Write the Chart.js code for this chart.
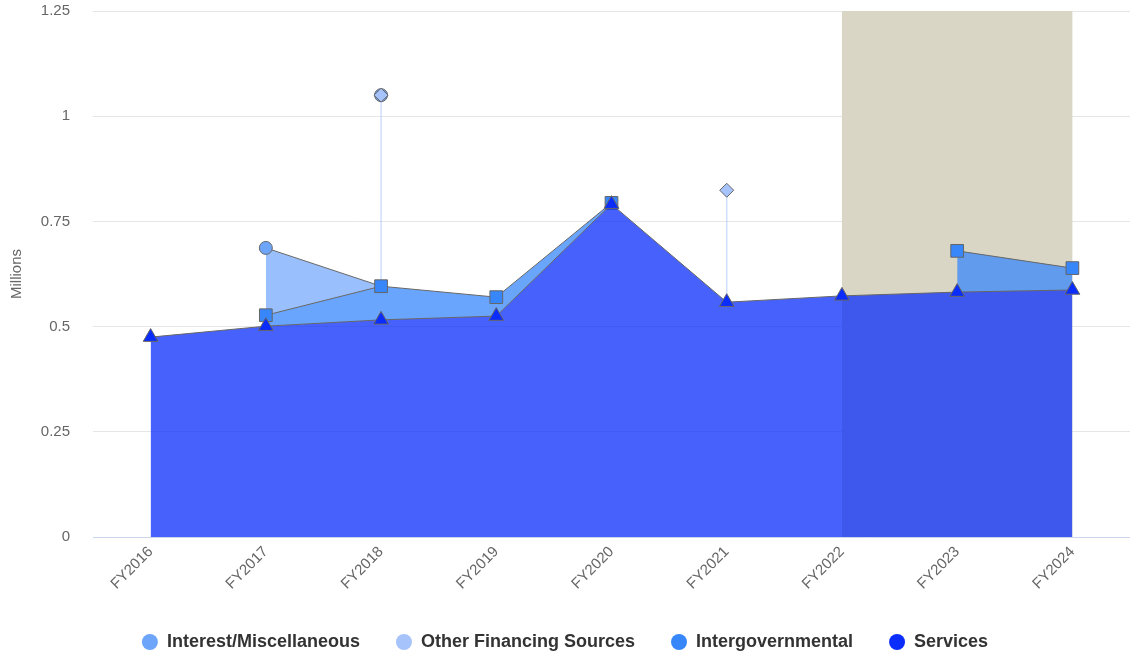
<!DOCTYPE html>
<html>
<head>
<meta charset="utf-8">
<script src="https://cdn.jsdelivr.net/npm/chart.js@4.4.1/dist/chart.umd.min.js"></script>
<style>
    html, body { margin: 0; padding: 0; background: #fff; }
</style>
</head>
<body>
<canvas id="revenueChart" width="1130" height="656"></canvas>
<script>
// Categories and series (millions)
const years = ["FY2016", "FY2017", "FY2018", "FY2019", "FY2020", "FY2021", "FY2022", "FY2023", "FY2024"];
const services = [0.475, 0.501, 0.516, 0.525, 0.791, 0.558, 0.573, 0.582, 0.587];
const intergovernmental = [null, 0.026, 0.080, 0.045, 0.003, null, null, 0.098, 0.052];
const interest = [null, 0.160, 0, null, null, null, null, null, null];
const otherFinancing = [null, null, 0.454, null, null, 0.266, null, null, null];
const yTicks = [0, 0.25, 0.5, 0.75, 1, 1.25];
const bandFrom = "FY2022";
const bandTo = "FY2024";

// Legend entries
const legendNames = ["Interest/Miscellaneous", "Other Financing Sources", "Intergovernmental", "Services"];
const legendColors = ["#6da5fb", "#a6c4fb", "#3787fb", "#0a2dfb"];

const lineGrey = "#666666";

function withAlpha(hex, a) {
    const n = parseInt(hex.slice(1), 16);
    return `rgba(${(n >> 16) & 255}, ${(n >> 8) & 255}, ${n & 255}, ${a})`;
}

// Stack the series on top of each other
const intergovTop = intergovernmental.map((v, i) => v == null ? null : services[i] + v);
const lowerTop = services.map((s, i) => s + (intergovernmental[i] || 0));
const interestTop = interest.map((v, i) => v == null ? null : lowerTop[i] + v);
const stackTotal = lowerTop.map((b, i) => b + (interest[i] || 0) + (otherFinancing[i] || 0));
const interestMarks = interest.map((v, i) => v == null ? null : stackTotal[i]);

// Isolated "other financing" points become vertical stems
const ofsStems = [];
otherFinancing.forEach((v, i) => {
    if (v == null) return;
    const base = lowerTop[i] + (interest[i] || 0);
    ofsStems.push({ x: years[i], y: base, top: false });
    ofsStems.push({ x: years[i], y: base + v, top: true });
    ofsStems.push({ x: years[i], y: null });
});

// Shaded band behind the series
const bandPlugin = {
    id: "forecastBand",
    beforeDatasetsDraw(chart) {
        const { ctx, chartArea, scales: { x } } = chart;
        const x0 = x.getPixelForValue(years.indexOf(bandFrom));
        const x1 = x.getPixelForValue(years.indexOf(bandTo));
        ctx.save();
        ctx.fillStyle = "#d9d6c5";
        ctx.fillRect(x0, chartArea.top, x1 - x0, chartArea.bottom - chartArea.top);
        ctx.restore();
    }
};

// Keep the legend row low, close to the bottom edge
const legendHeightPlugin = {
    id: "legendHeight",
    beforeLayout(chart) {
        const lg = chart.legend;
        if (!lg || lg._patched) return;
        const origFit = lg.fit.bind(lg);
        lg.fit = function () {
            origFit();
            this.height = 59;
        };
        lg._patched = true;
    }
};

const noPadding = () => ({ left: 0, top: 0, right: 0, bottom: 0 });

Chart.defaults.font.family = '"Liberation Sans", Arial, Helvetica, sans-serif';

const ctx = document.getElementById("revenueChart").getContext("2d");
new Chart(ctx, {
    type: "line",
    data: {
        labels: years,
        datasets: [
            {
                label: legendNames[0],
                data: interestTop,
                fill: 2,
                backgroundColor: withAlpha(legendColors[0], 0.7),
                borderColor: lineGrey,
                borderWidth: 1,
                pointRadius: 0,
                tension: 0,
                order: 6
            },
            {
                label: legendNames[0] + " points",
                data: interestMarks,
                showLine: false,
                pointStyle: "circle",
                pointRadius: 6.5,
                pointBackgroundColor: legendColors[0],
                pointBorderColor: lineGrey,
                pointBorderWidth: 1,
                order: 5
            },
            {
                label: legendNames[2],
                data: intergovTop,
                fill: 4,
                backgroundColor: withAlpha(legendColors[2], 0.75),
                borderColor: lineGrey,
                borderWidth: 1,
                pointStyle: "rect",
                pointRadius: 9,
                pointBackgroundColor: legendColors[2],
                pointBorderColor: lineGrey,
                pointBorderWidth: 1,
                tension: 0,
                order: 3
            },
            {
                label: legendNames[1],
                data: ofsStems,
                fill: false,
                borderColor: "rgba(166, 196, 251, 0.55)",
                borderWidth: 1.5,
                pointStyle: "rectRot",
                pointRadius: c => (c.raw && c.raw.top ? 7 : 0),
                pointBackgroundColor: legendColors[1],
                pointBorderColor: lineGrey,
                pointBorderWidth: 1,
                order: 4
            },
            {
                label: legendNames[3],
                data: services,
                fill: "origin",
                backgroundColor: withAlpha(legendColors[3], 0.75),
                borderColor: lineGrey,
                borderWidth: 1,
                pointStyle: "triangle",
                pointRadius: 8.5,
                pointBackgroundColor: legendColors[3],
                pointBorderColor: lineGrey,
                pointBorderWidth: 1,
                tension: 0,
                order: 1
            }
        ]
    },
    options: {
        responsive: false,
        animation: false,
        devicePixelRatio: 1,
        layout: { autoPadding: false, padding: { top: 11, right: 0, bottom: 0, left: 0 } },
        plugins: {
            tooltip: { enabled: false },
            legend: {
                position: "bottom",
                onClick: () => {},
                labels: {
                    usePointStyle: true,
                    boxHeight: 11.3,
                    pointStyleWidth: 16,
                    padding: 36,
                    color: "#333333",
                    font: { size: 18, weight: "bold" },
                    generateLabels: () => legendNames.map((name, i) => ({
                        text: name,
                        fillStyle: legendColors[i],
                        strokeStyle: legendColors[i],
                        lineWidth: 0,
                        pointStyle: "circle",
                        fontColor: "#333333",
                        hidden: false
                    }))
                }
            }
        },
        scales: {
            x: {
                offset: true,
                grid: { display: false, drawTicks: false },
                border: { display: true, color: "#ccd6eb" },
                ticks: {
                    color: "#666666",
                    font: { size: 15 },
                    autoSkip: false,
                    maxRotation: 45,
                    minRotation: 45,
                    padding: 6
                },
                afterFit(scale) {
                    scale.height = 60;
                    scale.paddingLeft = 0;
                    scale.paddingRight = 0;
                    scale.getPadding = noPadding;
                }
            },
            y: {
                min: 0,
                max: 1.25,
                afterBuildTicks(scale) { scale.ticks = yTicks.map(v => ({ value: v })); },
                ticks: {
                    color: "#666666",
                    font: { size: 15 },
                    padding: 23,
                    callback: v => String(v)
                },
                grid: { color: "#e6e6e6", drawTicks: false },
                border: { display: false },
                title: {
                    display: true,
                    text: "Millions",
                    color: "#666666",
                    font: { size: 15 },
                    padding: { top: 8, bottom: 0 }
                },
                afterFit(scale) {
                    scale.width = 93;
                    scale.paddingTop = 0;
                    scale.paddingBottom = 0;
                    scale.getPadding = noPadding;
                }
            }
        }
    },
    plugins: [bandPlugin, legendHeightPlugin]
});
</script>
</body>
</html>
